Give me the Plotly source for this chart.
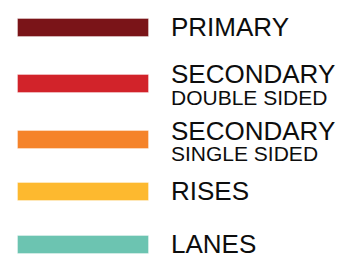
import plotly.graph_objects as go

# Legend entries
categories = ["PRIMARY", "SECONDARY", "SECONDARY", "RISES", "LANES"]
sublabels = ["", "DOUBLE SIDED", "SINGLE SIDED", "", ""]
colors = ["#7a1418", "#d2232a", "#f5832a", "#fdb92f", "#6cc4b1"]

# Layout (pixel-space positions)
row_y = [28, 83.5, 140, 192, 245]
bar_x0, bar_len, bar_h = 18, 131, 18
text_x = 169
FONT = "Liberation Sans, Arial, Helvetica, sans-serif"

fig = go.Figure()
for cat, sub, col, y in zip(categories, sublabels, colors, row_y):
    fig.add_trace(go.Bar(
        x=[bar_len], y=[y], base=[bar_x0], orientation="h", width=bar_h,
        marker=dict(color=col, line=dict(color="rgba(255,255,255,0.35)", width=1)),
        showlegend=False, hoverinfo="skip",
    ))
    if sub:
        fig.add_annotation(x=text_x, y=y - 9.5, text=cat, xref="x", yref="y",
                           xanchor="left", yanchor="middle", showarrow=False,
                           font=dict(family=FONT, size=26, color="#0d0d0d"))
        fig.add_annotation(x=text_x, y=y + 13.5, text=sub, xref="x", yref="y",
                           xanchor="left", yanchor="middle", showarrow=False,
                           font=dict(family=FONT, size=21, color="#0d0d0d"))
    else:
        fig.add_annotation(x=text_x, y=y - 1, text=cat, xref="x", yref="y",
                           xanchor="left", yanchor="middle", showarrow=False,
                           font=dict(family=FONT, size=26, color="#0d0d0d"))

fig.update_layout(
    width=346, height=260, margin=dict(l=0, r=0, t=0, b=0),
    paper_bgcolor="white", plot_bgcolor="white", bargap=0,
    xaxis=dict(range=[0, 346], visible=False, fixedrange=True),
    yaxis=dict(range=[260, 0], visible=False, fixedrange=True),
)
fig.write_html(
    "out.html",
    config={"displayModeBar": False},
    post_script="document.body.style.margin='0';document.body.style.overflow='hidden';",
)
